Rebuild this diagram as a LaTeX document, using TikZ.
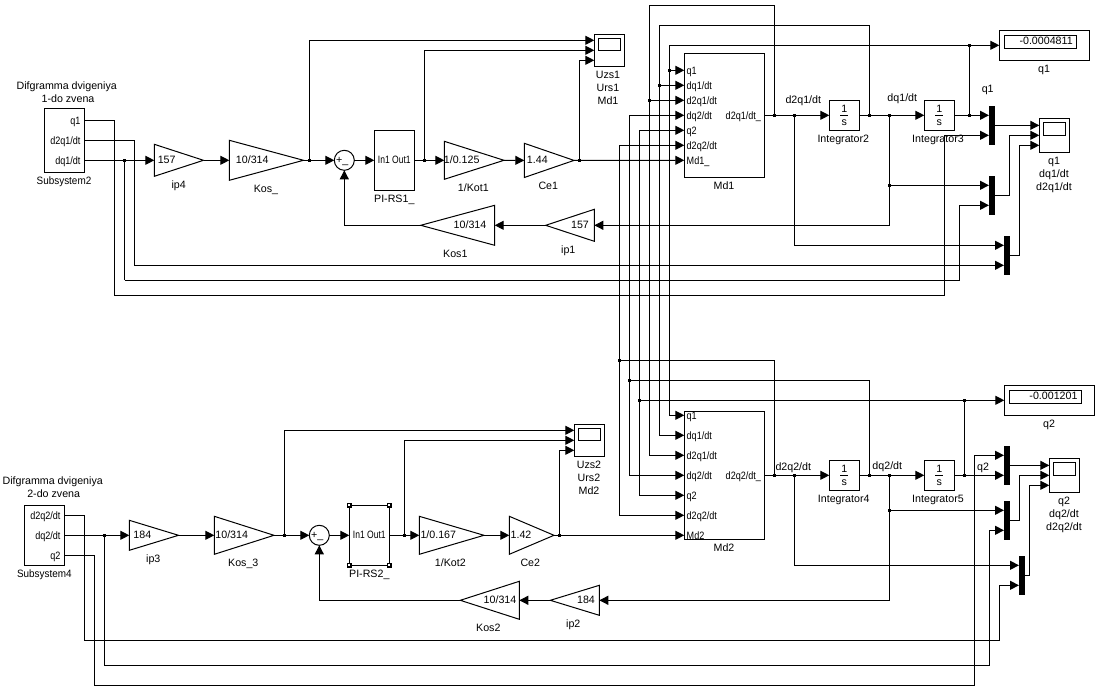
\documentclass[tikz,border=0pt]{standalone}
\usepackage{fontspec}
\setmainfont{Liberation Sans}
\newfontfamily\nfont[FakeStretch=0.85]{Liberation Sans}
\newfontfamily\pfont[FakeStretch=0.8]{Liberation Sans}
\newfontfamily\mfont[FakeStretch=0.93]{Liberation Sans}
\usetikzlibrary{arrows.meta}
\tikzset{
  conn/.style={draw=black,line width=.75pt,line join=miter},
  wire/.style={conn,-{Triangle[length=6.75pt,width=6.75pt]}},
  blk/.style={draw=black,line width=.75pt,inner sep=0,outer sep=0,rectangle},
  gainbox/.style={inner sep=0,outer sep=0,rectangle},
  txt/.style={inner sep=0,outer sep=0,text height=5.8pt,text depth=0pt,font=\fontsize{8}{9.6}\selectfont},
  port/.style={txt,font=\fontsize{8}{9.6}\nfont},
  pitxt/.style={txt,font=\fontsize{8}{9.6}\pfont},
  subtxt/.style={txt,font=\fontsize{8}{9.6}\mfont},
  junct/.style={fill=black,inner sep=0,outer sep=0,minimum size=2.6pt,rectangle},
  muxbar/.style={fill=black,inner sep=0,outer sep=0,rectangle},
  handle/.style={draw=black,fill=white,line width=1.2pt,inner sep=0,outer sep=0,minimum size=2.6pt,rectangle},
  sumst/.style={draw=black,line width=.75pt,circle,inner sep=0,outer sep=0,minimum size=15pt},
}
% name, x1, x2, y1, y2, style, text
\newcommand\rbox[7]{\node[#6,minimum width={((#3)-(#2))*0.75pt},minimum height={((#5)-(#4))*0.75pt}] (#1) at ({((#2)+(#3))/2},{((#4)+(#5))/2}) {#7};}
% gain pointing right: name, xbase, xtip, ytop, ybot
\newcommand\gainR[5]{\rbox{#1}{#2}{#3}{#4}{#5}{gainbox}{}\draw[conn] (#1.north west)--(#1.south west)--(#1.east)--cycle;}
% gain pointing left: name, xtip, xbase, ytop, ybot
\newcommand\gainL[5]{\rbox{#1}{#2}{#3}{#4}{#5}{gainbox}{}\draw[conn] (#1.north east)--(#1.south east)--(#1.west)--cycle;}
% scope: name, x1, x2, y1, y2, screen y2
\newcommand\scopeb[6]{\rbox{#1}{#2}{#3}{#4}{#5}{blk}{}\rbox{#1s}{#2+4}{#3-4}{#4+4.5}{#6}{blk}{}}
% integrator: name, x1, y1
\newcommand\integ[3]{\rbox{#1}{#2}{#2+30}{#3}{#3+30}{blk}{}%
  \node[txt] (#1n) at ({#2+15},{#3+8.5}) {1};\node[txt] (#1d) at ({#2+15},{#3+21.5}) {s};%
  \draw[conn] ({#2+11},{#3+15})--({#2+19},{#3+15});}
\begin{document}
\begin{tikzpicture}[x=0.75pt,y=-0.75pt]
\fill[white] (0,0) rectangle (1100,700);
\useasboundingbox (0,0) rectangle (1100,700);

%% ======= upper part =======
\node[txt] (t1) at (66.7,85.7) {Difgramma dvigeniya};
\node[txt] (t2) at (68,98.7) {1-do zvena};
\rbox{sub2}{44.5}{84.5}{108.3}{172.3}{blk}{}
\node[port,anchor=east] (s2a) at (80.5,120.3) {q1};
\node[port,anchor=east] (s2b) at (80.5,140.3) {d2q1/dt};
\node[port,anchor=east] (s2c) at (80.5,160.3) {dq1/dt};
\node[subtxt] (t3) at (64,180.7) {Subsystem2};

\gainR{ip4}{154.3}{203.5}{144.3}{176.3}
\node[txt] (ip4t) at (166.7,159.5) {157};
\node[txt] (ip4l) at (178.7,184.7) {ip4};
\gainR{kos0}{229.3}{303.5}{140.3}{180.3}
\node[txt] (kos0t) at (252.3,159.5) {10/314};
\node[txt] (kos0l) at (266,188.7) {Kos\_};
\node[sumst] (sum1) at (344.3,160.3) {};
\node[txt] (sum1t) at (342.3,159.5) {+\_};
\rbox{pi1}{374.3}{414.5}{130.3}{190.3}{blk}{}
\node[pitxt] (pi1t) at (394.3,159.5) {In1 Out1};
\node[txt] (pi1l) at (394.3,198.7) {PI-RS1\_};
\gainR{kot1}{444.3}{504}{141.3}{179.3}
\node[txt] (kot1t) at (461.7,159.5) {1/0.125};
\node[txt] (kot1l) at (473.3,187.7) {1/Kot1};
\gainR{ce1}{524.3}{574}{143.3}{177.5}
\node[txt] (ce1t) at (537.3,159.5) {1.44};
\node[txt] (ce1l) at (548.3,185.7) {Ce1};
\scopeb{sc1}{594.3}{624.5}{34.3}{66.3}{50.3}
\node[txt] (sc1a) at (608,75) {Uzs1};
\node[txt] (sc1b) at (608,87.7) {Urs1};
\node[txt] (sc1c) at (608,100.7) {Md1};
\gainL{ip1}{545.7}{594.3}{209.3}{241.3}
\node[txt] (ip1t) at (580,224.5) {157};
\node[txt] (ip1l) at (568.3,250) {ip1};
\gainL{kos1}{420.7}{494.7}{205.3}{245.3}
\node[txt] (kos1t) at (470,224.5) {10/314};
\node[txt] (kos1l) at (455.3,253.7) {Kos1};

\rbox{md1}{684.3}{764.3}{53.3}{177.3}{blk}{}
\node[port,anchor=west] (m1a) at (686.7,70.3) {q1};
\node[port,anchor=west] (m1b) at (686.7,85.3) {dq1/dt};
\node[port,anchor=west] (m1c) at (686.7,100.3) {d2q1/dt};
\node[port,anchor=west] (m1d) at (686.7,115.3) {dq2/dt};
\node[port,anchor=west] (m1e) at (686.7,130.3) {q2};
\node[port,anchor=west] (m1f) at (686.7,145.3) {d2q2/dt};
\node[port,anchor=west] (m1g) at (686.7,160.3) {Md1\_};
\node[port,anchor=east] (m1o) at (761,115.3) {d2q1/dt\_};
\node[txt] (m1l) at (724,186) {Md1};

\integ{int2}{829.3}{100.3}
\integ{int3}{924.3}{100.3}
\node[txt] (int2l) at (843.3,139) {Integrator2};
\node[txt] (int3l) at (938,139) {Integrator3};
\node[txt] (lb1) at (803.3,100) {d2q1/dt};
\node[txt] (lb2) at (902.3,97.5) {dq1/dt};
\node[txt] (lb3) at (987.7,89) {q1};

\rbox{disp1}{999.3}{1089.7}{30.3}{60.3}{blk}{}
\rbox{disp1s}{1004.3}{1076.7}{35.3}{48.3}{blk}{}
\node[txt,anchor=east] (disp1t) at (1072.7,41) {-0.0004811};
\node[txt] (disp1l) at (1044,69) {q1};

\rbox{mux1}{989}{995}{106}{144.7}{muxbar}{}
\rbox{mux2}{989}{995}{176}{214.7}{muxbar}{}
\rbox{mux3}{1004}{1010}{236}{274.7}{muxbar}{}
\scopeb{sc2}{1039.3}{1069.7}{118.3}{152.3}{135.3}
\node[txt] (sc2a) at (1054,161) {q1};
\node[txt] (sc2b) at (1054,174) {dq1/dt};
\node[txt] (sc2c) at (1054,187) {d2q1/dt};

%% junctions, upper
\node[junct] (j1) at (124.5,160.3) {};
\node[junct] (j2) at (309.3,160.3) {};
\node[junct] (j3) at (424.3,160.3) {};
\node[junct] (j4) at (579.3,160.3) {};
\node[junct] (j5) at (774.3,115.3) {};
\node[junct] (j6) at (794.3,115.3) {};
\node[junct] (j7) at (869.3,115.3) {};
\node[junct] (j8) at (889.3,115.3) {};
\node[junct] (j9) at (889.3,185.3) {};
\node[junct] (j10) at (969.3,115.3) {};
\node[junct] (j11) at (969.3,45.3) {};
\node[junct] (j12) at (669.3,70.3) {};
\node[junct] (j13) at (659.3,85.3) {};
\node[junct] (j14) at (649.3,100.3) {};

%% ======= lower part =======
\node[txt] (u1) at (52.7,481) {Difgramma dvigeniya};
\node[txt] (u2) at (53.7,494) {2-do zvena};
\rbox{sub4}{24.3}{64.3}{505.3}{565.3}{blk}{}
\node[port,anchor=east] (s4a) at (60.5,515.3) {d2q2/dt};
\node[port,anchor=east] (s4b) at (60.5,535.3) {dq2/dt};
\node[port,anchor=east] (s4c) at (60.5,555.3) {q2};
\node[subtxt] (u3) at (44.3,574) {Subsystem4};

\gainR{ip3}{129.3}{178.5}{520.3}{550.3}
\node[txt] (ip3t) at (142.3,534.5) {184};
\node[txt] (ip3l) at (153.3,559) {ip3};
\gainR{kos3}{214.3}{274}{516.3}{554.3}
\node[txt] (kos3t) at (231.7,534.5) {10/314};
\node[txt] (kos3l) at (243.3,562.7) {Kos\_3};
\node[sumst] (sum2) at (319.3,535.3) {};
\node[txt] (sum2t) at (317.3,534.5) {+\_};
\rbox{pi2}{349.3}{389.3}{505.3}{565.3}{blk}{}
\node[pitxt] (pi2t) at (369.3,534.5) {In1 Out1};
\node[txt] (pi2l) at (369.3,574) {PI-RS2\_};
\node[handle] (h1) at (pi2.north west) {};
\node[handle] (h2) at (pi2.north east) {};
\node[handle] (h3) at (pi2.south west) {};
\node[handle] (h4) at (pi2.south east) {};
\gainR{kot2}{419.3}{484}{516.3}{554.3}
\node[txt] (kot2t) at (438.3,534.5) {1/0.167};
\node[txt] (kot2l) at (450.3,562.7) {1/Kot2};
\gainR{ce2}{509.3}{554}{516.3}{554.3}
\node[txt] (ce2t) at (521,534.5) {1.42};
\node[txt] (ce2l) at (530.3,562.7) {Ce2};
\scopeb{sc3}{574.3}{604.5}{424.3}{456.3}{440.3}
\node[txt] (sc3a) at (589,464.7) {Uzs2};
\node[txt] (sc3b) at (589,477.7) {Urs2};
\node[txt] (sc3c) at (589,490.7) {Md2};
\gainL{ip2}{550.3}{599.3}{585.3}{615.3}
\node[txt] (ip2t) at (586,599.5) {184};
\node[txt] (ip2l) at (573.3,623.7) {ip2};
\gainL{kos2}{460.3}{519.3}{581.3}{619.3}
\node[txt] (kos2t) at (500,599.5) {10/314};
\node[txt] (kos2l) at (488.3,627.7) {Kos2};

\rbox{md2}{684.3}{764.3}{411.3}{539.3}{blk}{}
\node[port,anchor=west] (m2a) at (686.7,415.3) {q1};
\node[port,anchor=west] (m2b) at (686.7,435.3) {dq1/dt};
\node[port,anchor=west] (m2c) at (686.7,455.3) {d2q1/dt};
\node[port,anchor=west] (m2d) at (686.7,475.3) {dq2/dt};
\node[port,anchor=west] (m2e) at (686.7,495.3) {q2};
\node[port,anchor=west] (m2f) at (686.7,515.3) {d2q2/dt};
\node[port,anchor=west] (m2g) at (686.7,535.3) {Md2};
\node[port,anchor=east] (m2o) at (761,475.3) {d2q2/dt\_};
\node[txt] (m2l) at (724,547.3) {Md2};

\integ{int4}{829.3}{460.3}
\integ{int5}{924.3}{460.3}
\node[txt] (int4l) at (843.7,499) {Integrator4};
\node[txt] (int5l) at (938,499) {Integrator5};
\node[txt] (lc1) at (793.3,467) {d2q2/dt};
\node[txt] (lc2) at (887.3,466) {dq2/dt};
\node[txt] (lc3) at (983,467) {q2};

\rbox{disp2}{1004.3}{1094.3}{385.3}{415}{blk}{}
\rbox{disp2s}{1009.3}{1081.7}{390.3}{403.3}{blk}{}
\node[txt,anchor=east] (disp2t) at (1077.5,396) {-0.001201};
\node[txt] (disp2l) at (1049,424) {q2};

\rbox{mux4}{1004}{1010}{446}{484.7}{muxbar}{}
\rbox{mux5}{1004}{1010}{501}{539.7}{muxbar}{}
\rbox{mux6}{1019}{1025}{556}{594.7}{muxbar}{}
\scopeb{sc4}{1049.3}{1079.7}{458.3}{492.3}{475.3}
\node[txt] (sc4a) at (1064,501) {q2};
\node[txt] (sc4b) at (1064,513.7) {dq2/dt};
\node[txt] (sc4c) at (1064,527) {d2q2/dt};

%% junctions, lower
\node[junct] (k1) at (104.3,535.3) {};
\node[junct] (k2) at (284.3,535.3) {};
\node[junct] (k3) at (404.3,535.3) {};
\node[junct] (k4) at (559.3,535.3) {};
\node[junct] (k5) at (774.3,475.3) {};
\node[junct] (k6) at (794.3,475.3) {};
\node[junct] (k7) at (869.3,475.3) {};
\node[junct] (k8) at (889.3,475.3) {};
\node[junct] (k9) at (889.3,510.3) {};
\node[junct] (k10) at (964.3,475.3) {};
\node[junct] (k11) at (964.3,400.3) {};
\node[junct] (k12) at (619.3,360.3) {};
\node[junct] (k13) at (629.3,380.3) {};
\node[junct] (k14) at (639.3,400.3) {};

%% bends
\coordinate (a1) at (114.7,295.3);  \coordinate (a2) at (944.3,135.3);
\coordinate (a3) at (134.5,265.3);
\coordinate (a4) at (124.5,280.3);  \coordinate (a5) at (959.3,205.3);
\coordinate (a7) at (1009.3,135.3); \coordinate (a8) at (1019.3,145.3);
\coordinate (a9) at (794.3,245.3);
\coordinate (a11) at (579.3,60.3);
\coordinate (a12) at (424.3,50.3);
\coordinate (a13) at (309.3,40.3);
\coordinate (a14) at (649.3,5.3);
\coordinate (a15) at (659.3,25.3);  \coordinate (a16) at (869.3,25.3);
\coordinate (a17) at (669.3,45.3);
\coordinate (b1) at (84.3,640.3);   \coordinate (b2) at (999.3,585.3);
\coordinate (b3) at (104.3,665.3);  \coordinate (b4) at (989.3,530.3);
\coordinate (b5) at (94.3,685.3);   \coordinate (b6) at (974.3,455.3);
\coordinate (b7) at (284.3,430.3);
\coordinate (b8) at (404.3,440.3);
\coordinate (b9) at (559.3,450.3);
\coordinate (b10) at (794.3,565.3);
\coordinate (b12) at (1019.3,475.3); \coordinate (b13) at (1029.3,485.3);
\coordinate (c1) at (774.3,360.3);
\coordinate (c2) at (869.3,380.3);

%% connectors, upper
\draw[wire] (sub2.east |- s2a) -| (a1) -| (a2) -- (mux1.west |- a2);
\draw[wire] (sub2.east |- s2b) -| (a3) -- (mux3.west |- a3);
\draw[wire] (sub2.east |- s2c) -- (ip4.west);
\draw[conn] (j1.center) -- (a4);
\draw[wire] (a4) -| (a5) -- (mux2.west |- a5);
\draw[wire] (ip4.east) -- (kos0.west);
\draw[wire] (kos0.east) -- (sum1.west);
\draw[wire] (j2.center) |- (sc1.west |- a13);
\draw[wire] (sum1.east) -- (pi1.west);
\draw[wire] (pi1.east) -- (kot1.west);
\draw[wire] (j3.center) |- (sc1.west |- a12);
\draw[wire] (kot1.east) -- (ce1.west);
\draw[wire] (ce1.east) -- (md1.west |- m1g);
\draw[wire] (j4.center) |- (sc1.west |- a11);
\draw[wire] (md1.east |- m1o) -- (int2.west);
\draw[wire] (int2.east) -- (int3.west);
\draw[wire] (int3.east) -- (mux1.west |- int3);
\draw[wire] (j8.center) |- (mux2.west |- j9);
\draw[wire] (j8.center) |- (ip1.east);
\draw[wire] (ip1.west) -- (kos1.east);
\draw[wire] (kos1.west) -| (sum1.south);
\draw[wire] (j6.center) |- (mux3.west |- a9);
\draw[conn] (j10.center) -- (j11.center);
\draw[wire] (mux1.east) -- (sc2.west |- mux1);
\draw[wire] (mux2.east) -| (a7) -- (sc2.west |- a7);
\draw[wire] (mux3.east) -| (a8) -- (sc2.west |- a8);
% feedback loops to Md1 / Md2
\draw[conn] (j5.center) |- (a14);
\draw[wire] (a14) |- (md2.west |- m2c);
\draw[wire] (j14.center) -- (md1.west |- m1c);
\draw[conn] (j7.center) -- (a16) -- (a15);
\draw[wire] (a15) |- (md2.west |- m2b);
\draw[wire] (j13.center) -- (md1.west |- m1b);
\draw[conn] (a17) -- (j11.center);
\draw[wire] (j11.center) -- (disp1.west |- j11);
\draw[wire] (a17) |- (md2.west |- m2a);
\draw[wire] (j12.center) -- (md1.west |- m1a);
\draw[wire] (k14.center) |- (md1.west |- m1e);
\draw[wire] (k14.center) |- (md2.west |- m2e);
\draw[wire] (k13.center) |- (md1.west |- m1d);
\draw[wire] (k13.center) |- (md2.west |- m2d);
\draw[wire] (k12.center) |- (md1.west |- m1f);
\draw[wire] (k12.center) |- (md2.west |- m2f);

%% connectors, lower
\draw[wire] (sub4.east |- s4a) -| (b1) -| (b2) -- (mux6.west |- b2);
\draw[wire] (sub4.east |- s4b) -- (ip3.west);
\draw[conn] (k1.center) -- (b3);
\draw[wire] (b3) -| (b4) -- (mux5.west |- b4);
\draw[wire] (sub4.east |- s4c) -| (b5) -| (b6) -- (mux4.west |- b6);
\draw[wire] (ip3.east) -- (kos3.west);
\draw[wire] (kos3.east) -- (sum2.west);
\draw[wire] (k2.center) |- (sc3.west |- b7);
\draw[wire] (sum2.east) -- (pi2.west);
\draw[wire] (pi2.east) -- (kot2.west);
\draw[wire] (k3.center) |- (sc3.west |- b8);
\draw[wire] (kot2.east) -- (ce2.west);
\draw[wire] (ce2.east) -- (md2.west |- m2g);
\draw[wire] (k4.center) |- (sc3.west |- b9);
\draw[wire] (md2.east |- m2o) -- (int4.west);
\draw[wire] (int4.east) -- (int5.west);
\draw[wire] (int5.east) -- (mux4.west |- int5);
\draw[wire] (k9.center) -- (mux5.west |- k9);
\draw[wire] (k8.center) |- (ip2.east);
\draw[wire] (ip2.west) -- (kos2.east);
\draw[wire] (kos2.west) -| (sum2.south);
\draw[wire] (k6.center) |- (mux6.west |- b10);
\draw[conn] (k10.center) -- (k11.center);
\draw[conn] (k14.center) -- (k11.center);
\draw[wire] (k11.center) -- (disp2.west |- k11);
\draw[conn] (k13.center) -| (c2) -- (k7.center);
\draw[conn] (k12.center) -| (c1) -- (k5.center);
\draw[wire] (mux4.east) -- (sc4.west |- mux4);
\draw[wire] (mux5.east) -| (b12) -- (sc4.west |- b12);
\draw[wire] (mux6.east) -| (b13) -- (sc4.west |- b13);
\end{tikzpicture}
\end{document}
